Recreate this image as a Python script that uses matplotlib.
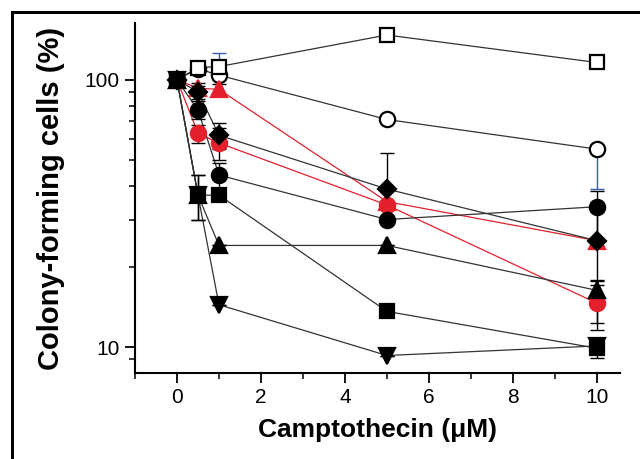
import matplotlib.pyplot as plt

plt.rcParams['font.family'] = ['Liberation Sans', 'DejaVu Sans']

dose = [0, 0.5, 1, 5, 10]

open_square = [100, 111, 112, 147, 116]
open_circle = [100, 110, 104, 71, 55]
diamond = [100, 90, 62, 39, 25]
red_triangle = [100, 93, 92, 35, 25]
red_circle = [100, 63, 58, 34, 14.6]
black_circle = [100, 77, 44, 30, 33.5]
up_triangle = [100, 37, 24, 24, 16.3]
down_triangle = [100, 37, 14.4, 9.3, 10.1]
black_square = [100, 37, 37, 13.6, 9.9]

# lower / upper error bar lengths
open_square_err = ([0, 5, 0, 0, 0], [0, 5, 0, 0, 0])
open_circle_err = ([0, 0, 0, 0, 16], [0, 0, 22, 0, 0])
diamond_err = ([0, 5, 7, 5, 8], [0, 5, 7, 14, 8])
red_triangle_err = ([0, 4, 4, 0, 0], [0, 4, 4, 0, 0])
red_circle_err = ([0, 5, 8, 0, 3], [0, 5, 8, 0, 3])
black_circle_err = ([0, 6, 5, 0, 8], [0, 6, 5, 0, 5])
up_triangle_err = ([0, 7, 0, 0, 4], [0, 7, 0, 0, 1.5])
down_triangle_err = ([0, 7, 0, 0, 0], [0, 7, 0, 0, 0])
black_square_err = ([0, 0, 0, 0, 0.8], [0, 0, 0, 0, 0.8])

RED = '#e3202c'
BLUE = '#3a5db0'


def border_bar(fig, rect):
    # thin black strip used as part of the outer frame
    b = fig.add_axes(rect)
    b.set_facecolor('black')
    b.set_xticks([])
    b.set_yticks([])
    for s in b.spines.values():
        s.set_visible(False)


def main():
    fig = plt.figure(figsize=(6.4, 4.59), dpi=100)
    ax = fig.add_axes([135/640, 1 - 373/459, 485/640, 350/459])

    # figure border: only the left and top edges show in the original
    border_bar(fig, [11/640, 1 - 14/459, 629/640, 3/459])
    border_bar(fig, [11/640, 0, 3/640, 1 - 11/459])

    series = [
        (open_circle, open_circle_err, 'o', 'white', '#333333', BLUE),
        (open_square, open_square_err, 's', 'white', '#333333', BLUE),
        (red_triangle, red_triangle_err, '^', RED, RED, 'black'),
        (red_circle, red_circle_err, 'o', RED, RED, 'black'),
        (black_circle, black_circle_err, 'o', 'black', '#333333', 'black'),
        (diamond, diamond_err, 'D', 'black', '#333333', 'black'),
        (up_triangle, up_triangle_err, '^', 'black', '#333333', 'black'),
        (black_square, black_square_err, 's', 'black', '#333333', 'black'),
        (down_triangle, down_triangle_err, 'v', 'black', '#333333', 'black'),
    ]
    for vals, err, mk, face, line, ecol in series:
        ax.plot(dose, vals, '-', color=line, linewidth=0.9, zorder=2)
        ax.errorbar(dose, vals, yerr=err, fmt='none', ecolor=ecol,
                    elinewidth=1.0, capsize=5, capthick=1.0, zorder=3)
        size = 9.5 if mk in ('s', 'D') else 11
        ax.plot(dose, vals, linestyle='none', marker=mk, markersize=size,
                markerfacecolor=face,
                markeredgecolor=RED if face == RED else 'black',
                markeredgewidth=1.6, zorder=4)

    ax.set_yscale('log')
    ax.set_xlim(-1, 10.55)
    ax.set_ylim(8, 163)
    ax.set_xticks([0, 2, 4, 6, 8, 10])
    ax.set_xticks([-1, 1, 3, 5, 7, 9], minor=True)
    ax.set_yticks([10, 100])
    ax.set_yticklabels(['10', '100'])
    ax.set_yticks([9] + list(range(20, 100, 10)), minor=True)
    ax.yaxis.set_minor_formatter(plt.NullFormatter())

    for side in ('top', 'right'):
        ax.spines[side].set_visible(False)
    for side in ('left', 'bottom'):
        ax.spines[side].set_linewidth(1.5)
    ax.tick_params(which='major', direction='out', length=7, width=1.3,
                   labelsize=15, pad=4)
    ax.tick_params(which='minor', direction='out', length=4, width=1.1)

    ax.set_xlabel('Camptothecin (\u03bcM)', fontsize=19, fontweight='bold',
                  labelpad=8)
    ax.set_ylabel('Colony-forming cells (%)', fontsize=21, fontweight='bold',
                  labelpad=14)

    fig.savefig('out.png', dpi=100)


if __name__ == '__main__':
    main()
